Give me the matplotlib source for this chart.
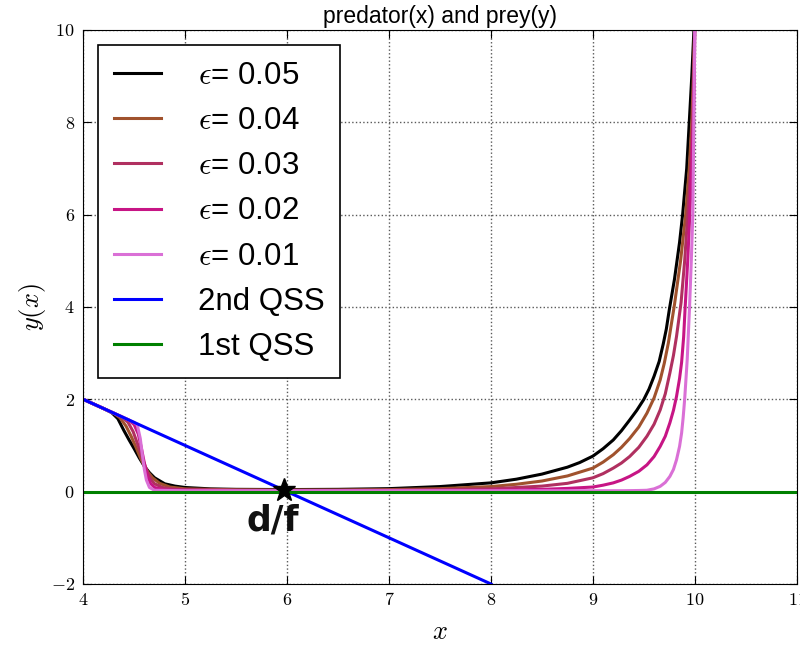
import matplotlib
matplotlib.use("Agg")
import matplotlib.pyplot as plt
from matplotlib.ticker import FuncFormatter

plt.rcParams['font.family'] = ['Liberation Sans', 'DejaVu Sans']
plt.rcParams['mathtext.fontset'] = 'cm'

# curves y(x), one pair of lists per epsilon
x_e05 = [4.0, 4.1, 4.2, 4.28, 4.34, 4.4, 4.45, 4.5, 4.55, 4.6, 4.65, 4.7, 4.8, 4.9, 5.0,
         5.25, 5.5, 6.0, 6.5, 7.0, 7.5, 8.0, 8.25, 8.5, 8.75, 8.87, 9.0, 9.1, 9.2, 9.28, 9.36,
         9.43, 9.5, 9.55, 9.6, 9.65, 9.69, 9.72, 9.75, 9.8, 9.85, 9.88, 9.92, 9.945, 9.97, 9.995]
y_e05 = [2.0, 1.9, 1.8, 1.71, 1.58, 1.32, 1.12, 0.93, 0.73, 0.55, 0.41, 0.3, 0.17, 0.12, 0.09,
         0.06, 0.05, 0.045, 0.05, 0.065, 0.11, 0.19, 0.27, 0.38, 0.53, 0.63, 0.77, 0.93, 1.12, 1.32, 1.55,
         1.76, 2.0, 2.22, 2.5, 2.82, 3.2, 3.52, 3.95, 4.6, 5.4, 6.0, 7.0, 8.0, 9.0, 10.2]

x_e04 = [4.0, 4.3, 4.36, 4.42, 4.47, 4.52, 4.56, 4.6, 4.64, 4.68, 4.75, 4.85, 5.0, 5.5,
         6.0, 6.5, 7.0, 7.5, 8.0, 8.25, 8.5, 8.75, 9.0, 9.1, 9.2, 9.28, 9.36, 9.45, 9.53,
         9.6, 9.66, 9.7, 9.74, 9.8, 9.86, 9.91, 9.945, 9.97, 9.985, 10.0]
y_e04 = [2.0, 1.7, 1.6, 1.42, 1.2, 0.95, 0.74, 0.55, 0.41, 0.3, 0.18, 0.1, 0.06, 0.04,
         0.035, 0.035, 0.045, 0.065, 0.11, 0.16, 0.23, 0.34, 0.51, 0.64, 0.8, 0.96, 1.15, 1.4, 1.7,
         2.03, 2.42, 2.78, 3.22, 4.05, 5.0, 6.0, 7.0, 8.0, 9.0, 10.2]

x_e03 = [4.0, 4.38, 4.44, 4.49, 4.53, 4.57, 4.6, 4.63, 4.66, 4.7, 4.78, 4.9, 5.0, 5.5,
         6.0, 7.0, 7.5, 8.0, 8.5, 8.75, 9.0, 9.1, 9.2, 9.28, 9.36, 9.45, 9.53, 9.6, 9.66,
         9.71, 9.755, 9.79, 9.82, 9.865, 9.9, 9.93, 9.96, 9.98, 9.99, 10.0]
y_e03 = [2.0, 1.62, 1.5, 1.3, 1.05, 0.8, 0.6, 0.42, 0.28, 0.17, 0.09, 0.05, 0.04, 0.03,
         0.025, 0.03, 0.04, 0.06, 0.12, 0.18, 0.3, 0.39, 0.51, 0.62, 0.76, 0.96, 1.2, 1.46, 1.77,
         2.12, 2.57, 2.95, 3.36, 4.1, 5.0, 6.0, 7.0, 8.0, 9.0, 10.2]

x_e02 = [4.0, 4.45, 4.5, 4.54, 4.57, 4.6, 4.63, 4.66, 4.7, 4.8, 5.0, 6.0, 7.0, 7.5,
         8.0, 8.5, 8.75, 9.0, 9.1, 9.2, 9.28, 9.36, 9.45, 9.53, 9.6, 9.66, 9.71, 9.755,
         9.79, 9.82, 9.85, 9.87, 9.89, 9.905, 9.93, 9.95, 9.97, 9.985, 9.995, 10.0]
y_e02 = [2.0, 1.55, 1.45, 1.25, 0.95, 0.62, 0.35, 0.18, 0.09, 0.04, 0.03, 0.02, 0.02, 0.025,
         0.03, 0.05, 0.07, 0.1, 0.14, 0.19, 0.25, 0.33, 0.44, 0.58, 0.76, 0.98, 1.2, 1.49,
         1.76, 2.06, 2.45, 2.8, 3.35, 4.0, 5.0, 6.0, 7.0, 8.0, 9.0, 10.2]

x_e01 = [4.0, 4.5, 4.53, 4.56, 4.58, 4.6, 4.62, 4.65, 4.7, 5.0, 7.0, 9.0, 9.3, 9.45, 9.53,
         9.6, 9.66, 9.71, 9.755, 9.79, 9.82, 9.85, 9.87, 9.885, 9.9, 9.925, 9.948, 9.965,
         9.98, 9.99, 10.0]
y_e01 = [2.0, 1.5, 1.45, 1.15, 0.8, 0.48, 0.25, 0.09, 0.03, 0.02, 0.02, 0.02, 0.02, 0.025, 0.03,
         0.06, 0.115, 0.2, 0.33, 0.48, 0.69, 0.98, 1.27, 1.6, 2.0, 2.86, 4.0, 5.0,
         6.0, 8.0, 10.2]

eps_labels = ['0.05', '0.04', '0.03', '0.02', '0.01']
eps_colors = ['black', 'sienna', '#b03060', 'mediumvioletred', 'orchid']
eps_x = [x_e05, x_e04, x_e03, x_e02, x_e01]
eps_y = [y_e05, y_e04, y_e03, y_e02, y_e01]

# quasi steady states
qss2_x = [4, 8]
qss2_y = [2, -2]
qss1_x = [4, 11]
qss1_y = [0, 0]

star_x, star_y = 5.97, 0.04

fig = plt.figure(figsize=(8, 6.45), dpi=100)
ax = fig.add_axes([0.104, 0.0946, 0.892, 0.859])

for xs, ys, lab, col in zip(eps_x, eps_y, eps_labels, eps_colors):
    ax.plot(xs, ys, color=col, lw=2.2, label=r'$\epsilon$= ' + lab)
ax.plot(qss2_x, qss2_y, color='blue', lw=2.2, label='2nd QSS')
ax.plot(qss1_x, qss1_y, color='green', lw=2.2, label='1st QSS')

ax.plot(star_x, star_y, marker='*', color='black', markersize=17, zorder=5)
ax.text(5.86, -0.63, 'd/f', fontsize=25, fontweight='bold', family='DejaVu Sans',
        ha='center', va='center', color='#111111')

ax.set_xlim(4, 11)
ax.set_ylim(-2, 10)
ax.set_xticks(range(4, 12))
ax.set_yticks(range(-2, 11, 2))
fmt = FuncFormatter(lambda v, p: r'$%g$' % v)
ax.xaxis.set_major_formatter(fmt)
ax.yaxis.set_major_formatter(fmt)
ax.tick_params(direction='in', top=True, right=True, length=6, labelsize=13, pad=6)
ax.grid(True, color='0.35', linestyle=':', linewidth=1)

ax.set_xlabel(r'$x$', fontsize=19, labelpad=8)
ax.set_ylabel(r'$y(x)$', fontsize=19, labelpad=2)
ax.set_title('predator(x) and prey(y)', fontsize=16.5, pad=5)

leg = ax.legend(loc='upper left', bbox_to_anchor=(0.021, 0.973), borderaxespad=0,
                fontsize=22.5, fancybox=False, framealpha=1, handlelength=1.5,
                handletextpad=1.2, labelspacing=0.49, borderpad=0.5)
leg.get_frame().set_edgecolor('black')
leg.get_frame().set_linewidth(1.2)

fig.savefig('out.png', dpi=100)
